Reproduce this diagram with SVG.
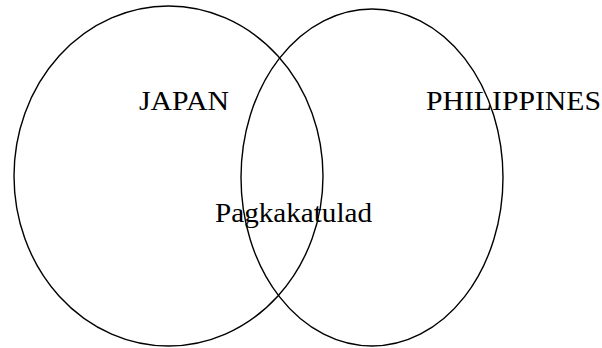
<svg xmlns="http://www.w3.org/2000/svg" width="602" height="348" viewBox="0 0 602 348">
<style>
.c{fill:none;stroke:#000;stroke-width:1.4}
.t{font-family:"Liberation Serif","Times New Roman",serif;font-size:27px;fill:#000}
</style>
<rect width="602" height="348" fill="#fff"/>
<g id="japan">
<ellipse class="c" cx="168.5" cy="176" rx="154.5" ry="170"/>
<text class="t" x="139" y="110" textLength="90" lengthAdjust="spacingAndGlyphs">JAPAN</text>
</g>
<g id="philippines">
<ellipse class="c" cx="372" cy="177.5" rx="131" ry="168.5"/>
<text class="t" x="426" y="110" textLength="175" lengthAdjust="spacingAndGlyphs">PHILIPPINES</text>
</g>
<g id="pagkakatulad">
<text class="t" x="215" y="222" textLength="157" lengthAdjust="spacingAndGlyphs">Pagkakatulad</text>
</g>
<g id="connectors"/>
</svg>
